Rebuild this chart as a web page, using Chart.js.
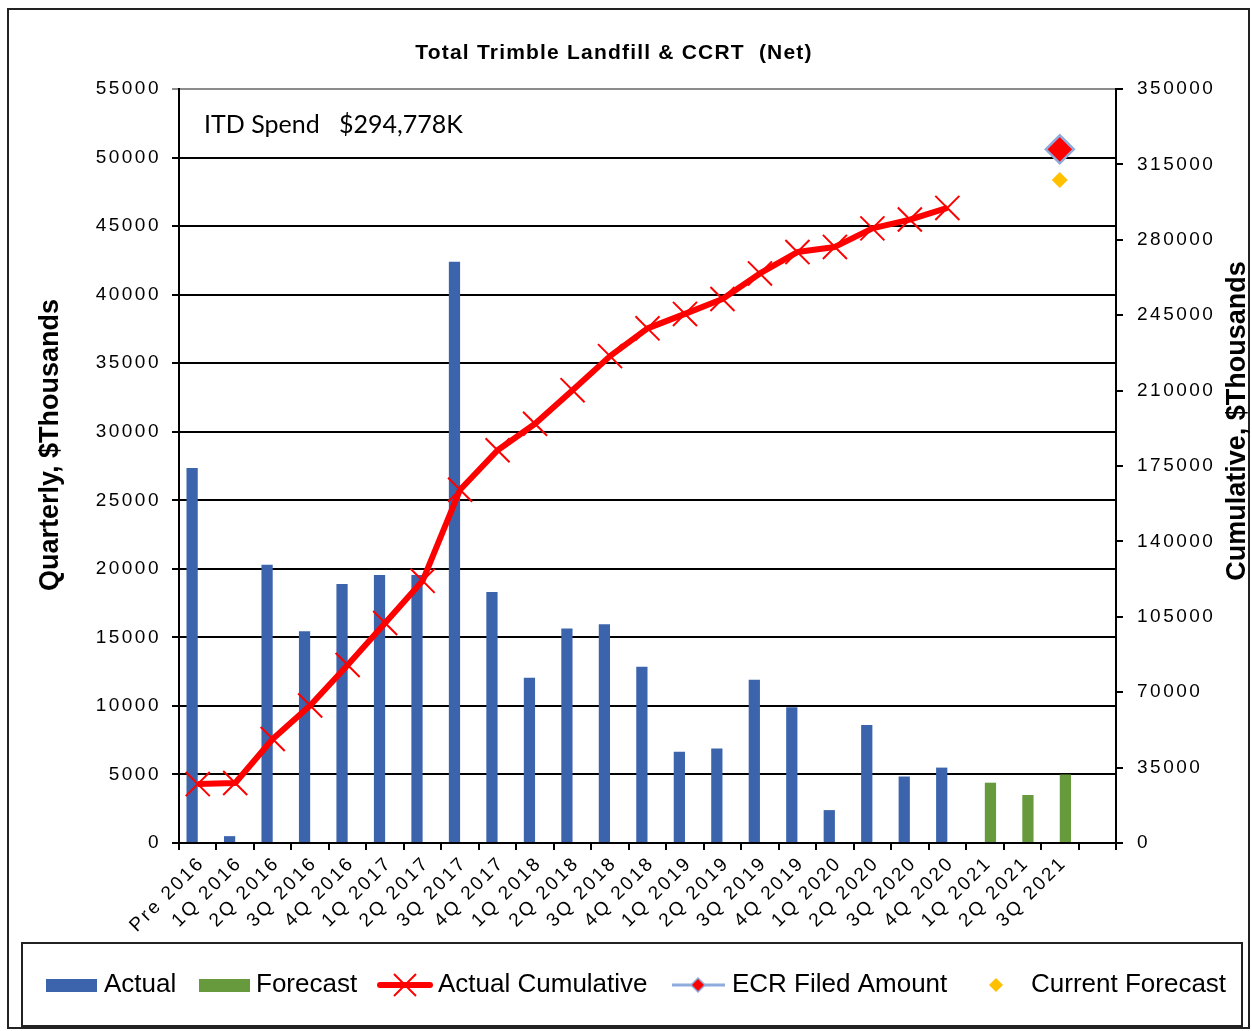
<!DOCTYPE html>
<html>
<head>
<meta charset="utf-8">
<script src="https://cdn.jsdelivr.net/npm/chart.js@4.4.1/dist/chart.umd.min.js"></script>
<style>
  body { margin: 0; background: #fff; }
  #wrap { width: 1252px; height: 1031px; }
</style>
</head>
<body>
<div id="wrap"><canvas id="chart" width="1252" height="1031"></canvas></div>
<script>
// categories (last slot is left empty, like the source sheet)
const quarters = ['Pre 2016', '1Q 2016', '2Q 2016', '3Q 2016', '4Q 2016', '1Q 2017', '2Q 2017',
  '3Q 2017', '4Q 2017', '1Q 2018', '2Q 2018', '3Q 2018', '4Q 2018', '1Q 2019', '2Q 2019',
  '3Q 2019', '4Q 2019', '1Q 2020', '2Q 2020', '3Q 2020', '4Q 2020', '1Q 2021', '2Q 2021',
  '3Q 2021', ''];

// quarterly spend, $K
const actual = [27350, 500, 20300, 15450, 18900, 19550, 19550, 42400, 18300, 12050, 15650,
  15950, 12850, 6650, 6900, 11900, 9900, 2400, 8600, 4850, 5500, null, null, null, null];
const forecast = [null, null, null, null, null, null, null, null, null, null, null, null, null,
  null, null, null, null, null, null, null, null, 4400, 3500, 5000, null];

// cumulative spend, $K (right axis)
const cumulative = [27350, 27850, 48300, 63800, 82600, 102100, 121700, 164000, 182300, 194600,
  210200, 226000, 238900, 245600, 252500, 264400, 274300, 276700, 285300, 289400, 294800,
  null, null, null, null];
const ecrFiled = [null, null, null, null, null, null, null, null, null, null, null, null, null,
  null, null, null, null, null, null, null, null, null, null, 322000, null];
const currentForecast = [null, null, null, null, null, null, null, null, null, null, null, null,
  null, null, null, null, null, null, null, null, null, null, null, 307800, null];

// axis ticks
const leftTicks = [0, 5000, 10000, 15000, 20000, 25000, 30000, 35000, 40000, 45000, 50000, 55000];
const rightTicks = [0, 35000, 70000, 105000, 140000, 175000, 210000, 245000, 280000, 315000, 350000];

const BLUE = '#3B64AD';
const GREEN = '#669A3D';
const RED = '#FF0000';
const GOLD = '#FFC000';
const LIGHTBLUE = '#8FAADC';
const TICK_FONT = { family: 'Liberation Sans', size: 19 };

// draws title, axis titles, note, frame and legend on top of the chart
const decorPlugin = {
  id: 'decor',
  beforeDraw(chart) {
    const ctx = chart.ctx;
    ctx.save();
    ctx.fillStyle = '#fff';
    ctx.fillRect(0, 0, chart.width, chart.height);
    ctx.restore();
    // excel spreads the axis numbers a bit
    ctx.letterSpacing = '2.5px';
  },
  beforeDatasetsDraw(chart) {
    chart.ctx.letterSpacing = '0px';
  },
  afterDraw(chart) {
    const ctx = chart.ctx;
    ctx.save();
    ctx.letterSpacing = '0px';
    ctx.fillStyle = '#000';

    // outer frame
    ctx.strokeStyle = '#222';
    ctx.lineWidth = 2;
    ctx.strokeRect(8, 9, 1241, 1019);

    // title
    ctx.letterSpacing = '1.2px';
    ctx.font = 'bold 21px "Liberation Sans"';
    ctx.textAlign = 'center';
    ctx.textBaseline = 'middle';
    ctx.fillText('Total Trimble Landfill & CCRT  (Net)', 614, 53);
    ctx.letterSpacing = '0px';

    // axis titles, both read bottom to top
    ctx.font = 'bold 27px "Liberation Sans"';
    ctx.save();
    ctx.translate(51, 445);
    ctx.rotate(-Math.PI / 2);
    ctx.fillText('Quarterly, $Thousands', 0, 0);
    ctx.restore();
    ctx.save();
    ctx.translate(1238, 421);
    ctx.rotate(-Math.PI / 2);
    ctx.fillText('Cumulative, $Thousands', 0, 0);
    ctx.restore();

    // ITD note
    ctx.font = '25px Lato';
    ctx.textAlign = 'left';
    ctx.textBaseline = 'alphabetic';
    ctx.fillText('ITD Spend', 204, 133);
    ctx.fillText('$294,778K', 339, 133);

    // legend box
    ctx.strokeRect(22, 943, 1220, 83);
    const ly = 985;
    ctx.font = '26px "Liberation Sans"';
    ctx.textBaseline = 'middle';

    ctx.fillStyle = BLUE;
    ctx.fillRect(46, 979, 51, 13);
    ctx.fillStyle = '#000';
    ctx.fillText('Actual', 104, ly);

    ctx.fillStyle = GREEN;
    ctx.fillRect(199, 979, 51, 13);
    ctx.fillStyle = '#000';
    ctx.fillText('Forecast', 256, ly);

    ctx.strokeStyle = RED;
    ctx.lineCap = 'round';
    ctx.lineWidth = 6;
    ctx.beginPath();
    ctx.moveTo(380, ly);
    ctx.lineTo(430, ly);
    ctx.stroke();
    ctx.lineWidth = 2;
    ctx.lineCap = 'butt';
    ctx.beginPath();
    ctx.moveTo(394, ly - 11); ctx.lineTo(416, ly + 11);
    ctx.moveTo(416, ly - 11); ctx.lineTo(394, ly + 11);
    ctx.stroke();
    ctx.fillText('Actual Cumulative', 438, ly);

    ctx.strokeStyle = LIGHTBLUE;
    ctx.lineWidth = 3;
    ctx.beginPath();
    ctx.moveTo(672, ly);
    ctx.lineTo(725, ly);
    ctx.stroke();
    diamond(ctx, 698, ly, 7, RED, LIGHTBLUE, 1.5);
    ctx.fillStyle = '#000';
    ctx.fillText('ECR Filed Amount', 732, ly);

    diamond(ctx, 996, ly, 7, GOLD, null, 0);
    ctx.fillStyle = '#000';
    ctx.fillText('Current Forecast', 1031, ly);

    ctx.restore();
  }
};

function diamond(ctx, x, y, r, fill, stroke, lw) {
  ctx.beginPath();
  ctx.moveTo(x - r, y);
  ctx.lineTo(x, y - r);
  ctx.lineTo(x + r, y);
  ctx.lineTo(x, y + r);
  ctx.closePath();
  ctx.fillStyle = fill;
  ctx.fill();
  if (stroke) {
    ctx.strokeStyle = stroke;
    ctx.lineWidth = lw;
    ctx.stroke();
  }
}

// plain numbers, no thousands separator
const plain = (v) => String(v);

const ctx = document.getElementById('chart').getContext('2d');

new Chart(ctx, {
  type: 'bar',
  data: {
    labels: quarters,
    datasets: [
      {
        type: 'line',
        label: 'Actual Cumulative',
        data: cumulative,
        yAxisID: 'y2',
        borderColor: RED,
        borderWidth: 6,
        borderJoinStyle: 'round',
        pointStyle: 'crossRot',
        pointRadius: 17,
        pointBorderWidth: 2,
        pointBorderColor: RED,
        tension: 0,
        order: 1,
      },
      {
        type: 'line',
        label: 'ECR Filed Amount',
        data: ecrFiled,
        yAxisID: 'y2',
        showLine: false,
        pointStyle: 'rectRot',
        pointRadius: 14,
        pointBackgroundColor: RED,
        pointBorderColor: LIGHTBLUE,
        pointBorderWidth: 2.5,
        order: 0,
      },
      {
        type: 'line',
        label: 'Current Forecast',
        data: currentForecast,
        yAxisID: 'y2',
        showLine: false,
        pointStyle: 'rectRot',
        pointRadius: 8,
        pointBackgroundColor: GOLD,
        pointBorderWidth: 0,
        order: 0,
      },
      {
        label: 'Actual',
        data: actual,
        yAxisID: 'y',
        backgroundColor: BLUE,
        categoryPercentage: 0.6,
        barPercentage: 1,
        order: 2,
      },
      {
        label: 'Forecast',
        data: forecast,
        yAxisID: 'y',
        backgroundColor: GREEN,
        categoryPercentage: 0.6,
        barPercentage: 1,
        order: 2,
      },
    ],
  },
  options: {
    responsive: false,
    animation: false,
    layout: { padding: { top: 89, left: 0, right: 0, bottom: 0 } },
    plugins: {
      legend: { display: false },
      title: { display: false },
      tooltip: { enabled: false },
    },
    scales: {
      x: {
        offset: true,
        grid: {
          offset: true,
          drawOnChartArea: false,
          drawTicks: true,
          tickLength: 7,
          color: '#000',
          lineWidth: 2,
        },
        border: { display: true, color: '#000', width: 2 },
        ticks: {
          color: '#000',
          font: TICK_FONT,
          autoSkip: false,
          maxRotation: 45,
          minRotation: 45,
          padding: 2,
          labelOffset: 4,
        },
        afterFit: (s) => { s.height = 188; },
      },
      y: {
        position: 'left',
        min: 0,
        max: 55000,
        afterBuildTicks: (s) => { s.ticks = leftTicks.map((v) => ({ value: v })); },
        grid: {
          color: (c) => (c.tick && c.tick.value === 55000 ? '#8c8c8c' : '#000'),
          lineWidth: 2,
          tickLength: 7,
        },
        border: { display: true, color: '#000', width: 2 },
        ticks: { color: '#000', font: TICK_FONT, padding: 11, callback: plain },
        afterFit: (s) => { s.width = 179; },
      },
      y2: {
        position: 'right',
        min: 0,
        max: 350000,
        afterBuildTicks: (s) => { s.ticks = rightTicks.map((v) => ({ value: v })); },
        grid: {
          drawOnChartArea: false,
          color: '#000',
          lineWidth: 2,
          tickLength: 7,
        },
        border: { display: true, color: '#000', width: 2 },
        ticks: { color: '#000', font: TICK_FONT, padding: 14, callback: plain },
        afterFit: (s) => { s.width = 136; },
      },
    },
  },
  plugins: [decorPlugin],
});
</script>
</body>
</html>
